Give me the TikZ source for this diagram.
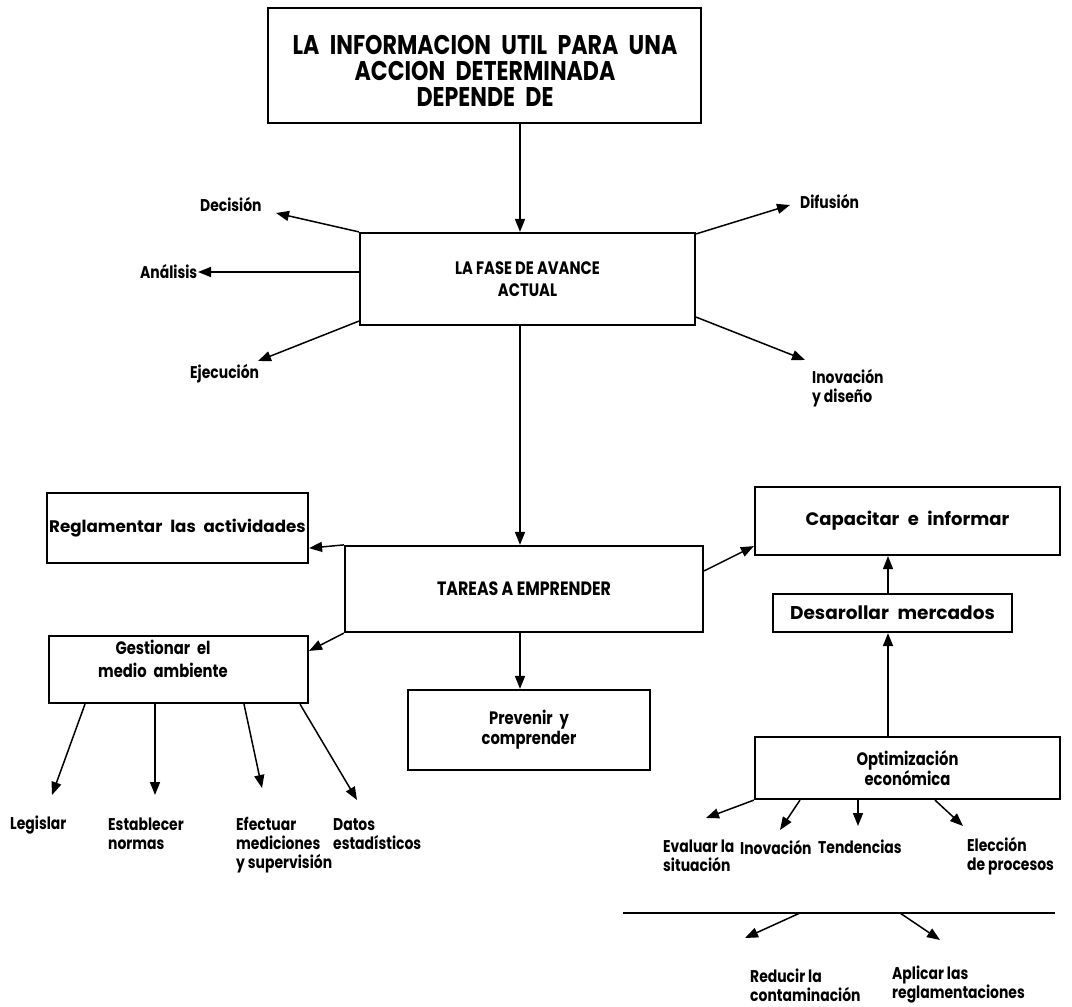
\documentclass[tikz,border=0pt]{standalone}
\usepackage{fontspec}
\setmainfont{Poppins}[FakeStretch=0.82]
\newfontfamily\widefont{Poppins}[FakeStretch=0.82,WordSpace=2.2]
\newfontfamily\broadfont{Poppins}[WordSpace=2.2]
\usetikzlibrary{arrows.meta}
\newcommand\boxfont[2]{\widefont\bfseries\fontsize{#1}{#2}\selectfont}
\newcommand\broadboxfont[2]{\broadfont\bfseries\fontsize{#1}{#2}\selectfont}
\begin{document}
\begin{tikzpicture}[x=1pt,y=-1pt,
  box/.style={draw,line width=2.2pt,inner sep=0pt,align=center},
  caps/.style={font=\bfseries\fontsize{18}{22}\selectfont},
  boxtxt/.style={font=\boxfont{18}{20},align=center,inner sep=0pt},
  conn/.style={line width=1.5pt,-{Triangle[length=13pt,width=10pt]}},
  lbl/.style={font=\bfseries\fontsize{17}{19}\selectfont,align=left,inner sep=0pt,anchor=west},
]
\useasboundingbox[fill=white] (0,0) rectangle (1072,1007);

% main chain
\node[box,minimum width=433pt,minimum height=115pt] (top) at (484.5,65.5) {};
\node[align=center,inner sep=0pt,font=\boxfont{27}{26}]
  (toptxt) at (485,71) {LA INFORMACION UTIL PARA UNA\\ACCION DETERMINADA\\DEPENDE DE};
\node[box,caps,minimum width=335pt,minimum height=92pt] (phase) at (527.5,279)
  {LA FASE DE AVANCE\\ACTUAL};
\node[box,caps,font=\bfseries\fontsize{19.3}{22}\selectfont,
      minimum width=358pt,minimum height=86pt] (tasks) at (524,589)
  {TAREAS A EMPRENDER};

\draw[conn] (top.south -| 520,0) -- (phase.north -| 520,0);
\draw[conn] (phase.south -| 520,0) -- (tasks.north -| 520,0);

% outputs of the current phase
\node[lbl] (dec) at (200,204) {Decisión};
\node[lbl] (dif) at (800,201) {Difusión};
\node[lbl] (ana) at (140,272) {Análisis};
\node[lbl] (eje) at (190,374) {Ejecución};
\node[lbl] (ino) at (812,388) {Inovación\\y diseño};
\coordinate (decT) at (276,213);
\coordinate (difT) at (790,205);
\coordinate (anaT) at (198,272);
\coordinate (ejeT) at (258,361);
\coordinate (inoT) at (805,360);
\draw[conn] (phase.north west) -- (decT);
\draw[conn] ([yshift=-2pt]phase.north east) -- (difT);
\draw[conn] (phase.west |- 0,272) -- (anaT);
\draw[conn] ([yshift=5pt]phase.south west) -- (ejeT);
\draw[conn] ([yshift=9pt]phase.south east) -- (inoT);

% tasks
\node[box,boxtxt,font=\broadboxfont{16.7}{20},minimum width=261pt,minimum height=70pt]
  (reg) at (177.5,528) {Reglamentar las actividades};
\node[box,minimum width=259pt,minimum height=67pt] (ges) at (178.5,669.5) {};
\node[boxtxt,font=\boxfont{18}{23}] (gestxt) at (163,659)
  {Gestionar el\\medio ambiente};
\node[box,boxtxt,minimum width=242pt,minimum height=80pt] (prev) at (529,730)
  {Prevenir y\\comprender};
\node[box,boxtxt,font=\broadboxfont{18}{20},minimum width=305pt,minimum height=68pt]
  (cap) at (907.5,521) {Capacitar e informar};
\node[box,boxtxt,font=\broadboxfont{18.5}{20},minimum width=239pt,minimum height=38pt]
  (mer) at (892.5,613) {Desarollar mercados};
\node[box,boxtxt,minimum width=305pt,minimum height=62pt] (opt) at (907.5,768)
  {Optimización\\económica};

\draw[conn] (tasks.north west) -- ([yshift=16pt]reg.south east);
\draw[conn] (tasks.south west) -- ([yshift=-16pt]ges.north east);
\draw[conn] (tasks.south -| 520,0) -- (prev.north -| 520,0);
\draw[conn] ([yshift=-26pt]tasks.north east) -- ([yshift=10pt]cap.south west);
\draw[conn] (mer.north -| 888,0) -- (cap.south -| 888,0);
\draw[conn] (opt.north -| 888,0) -- (mer.south -| 888,0);

% environmental management
\node[lbl] (leg) at (10,825) {Legislar};
\node[lbl] (est) at (108,834) {Establecer\\normas};
\node[lbl] (efe) at (236,845) {Efectuar\\mediciones\\y supervisión};
\node[lbl] (dat) at (333,834) {Datos\\estadísticos};
\coordinate (legT) at (52,795);
\coordinate (estT) at (155,795);
\coordinate (efeT) at (262,788);
\coordinate (datT) at (357,800);
\draw[conn] (ges.south -| 85,0) -- (legT);
\draw[conn] (ges.south -| 155,0) -- (estT);
\draw[conn] (ges.south -| 244,0) -- (efeT);
\draw[conn] (ges.south -| 300,0) -- (datT);

% economic optimisation
\node[lbl] (eva) at (663,856) {Evaluar la\\situación};
\node[lbl] (inn) at (740,847) {Inovación};
\node[lbl] (ten) at (818,847) {Tendencias};
\node[lbl] (ele) at (967,856) {Elección\\de procesos};
\coordinate (evaT) at (706,818);
\coordinate (innT) at (780,830);
\coordinate (tenT) at (858,826);
\coordinate (eleT) at (963,826);
\draw[conn] (opt.south west) -- (evaT);
\draw[conn] (opt.south -| 800,0) -- (innT);
\draw[conn] (opt.south -| 858,0) -- (tenT);
\draw[conn] (opt.south -| 935,0) -- (eleT);

% dividing rule and its two consequences
\coordinate (ruleL) at (623,913);
\coordinate (ruleR) at (1055,913);
\draw[line width=2.2pt] (ruleL) -- (ruleR);
\node[lbl] (red) at (750,985) {Reducir la\\contaminación};
\node[lbl] (apl) at (892,985) {Aplicar las\\reglamentaciones};
\coordinate (redT) at (745,938);
\coordinate (aplT) at (940,940);
\draw[conn] (ruleL -| 800,0) -- (redT);
\draw[conn] (ruleL -| 900,0) -- (aplT);
\end{tikzpicture}
\end{document}
